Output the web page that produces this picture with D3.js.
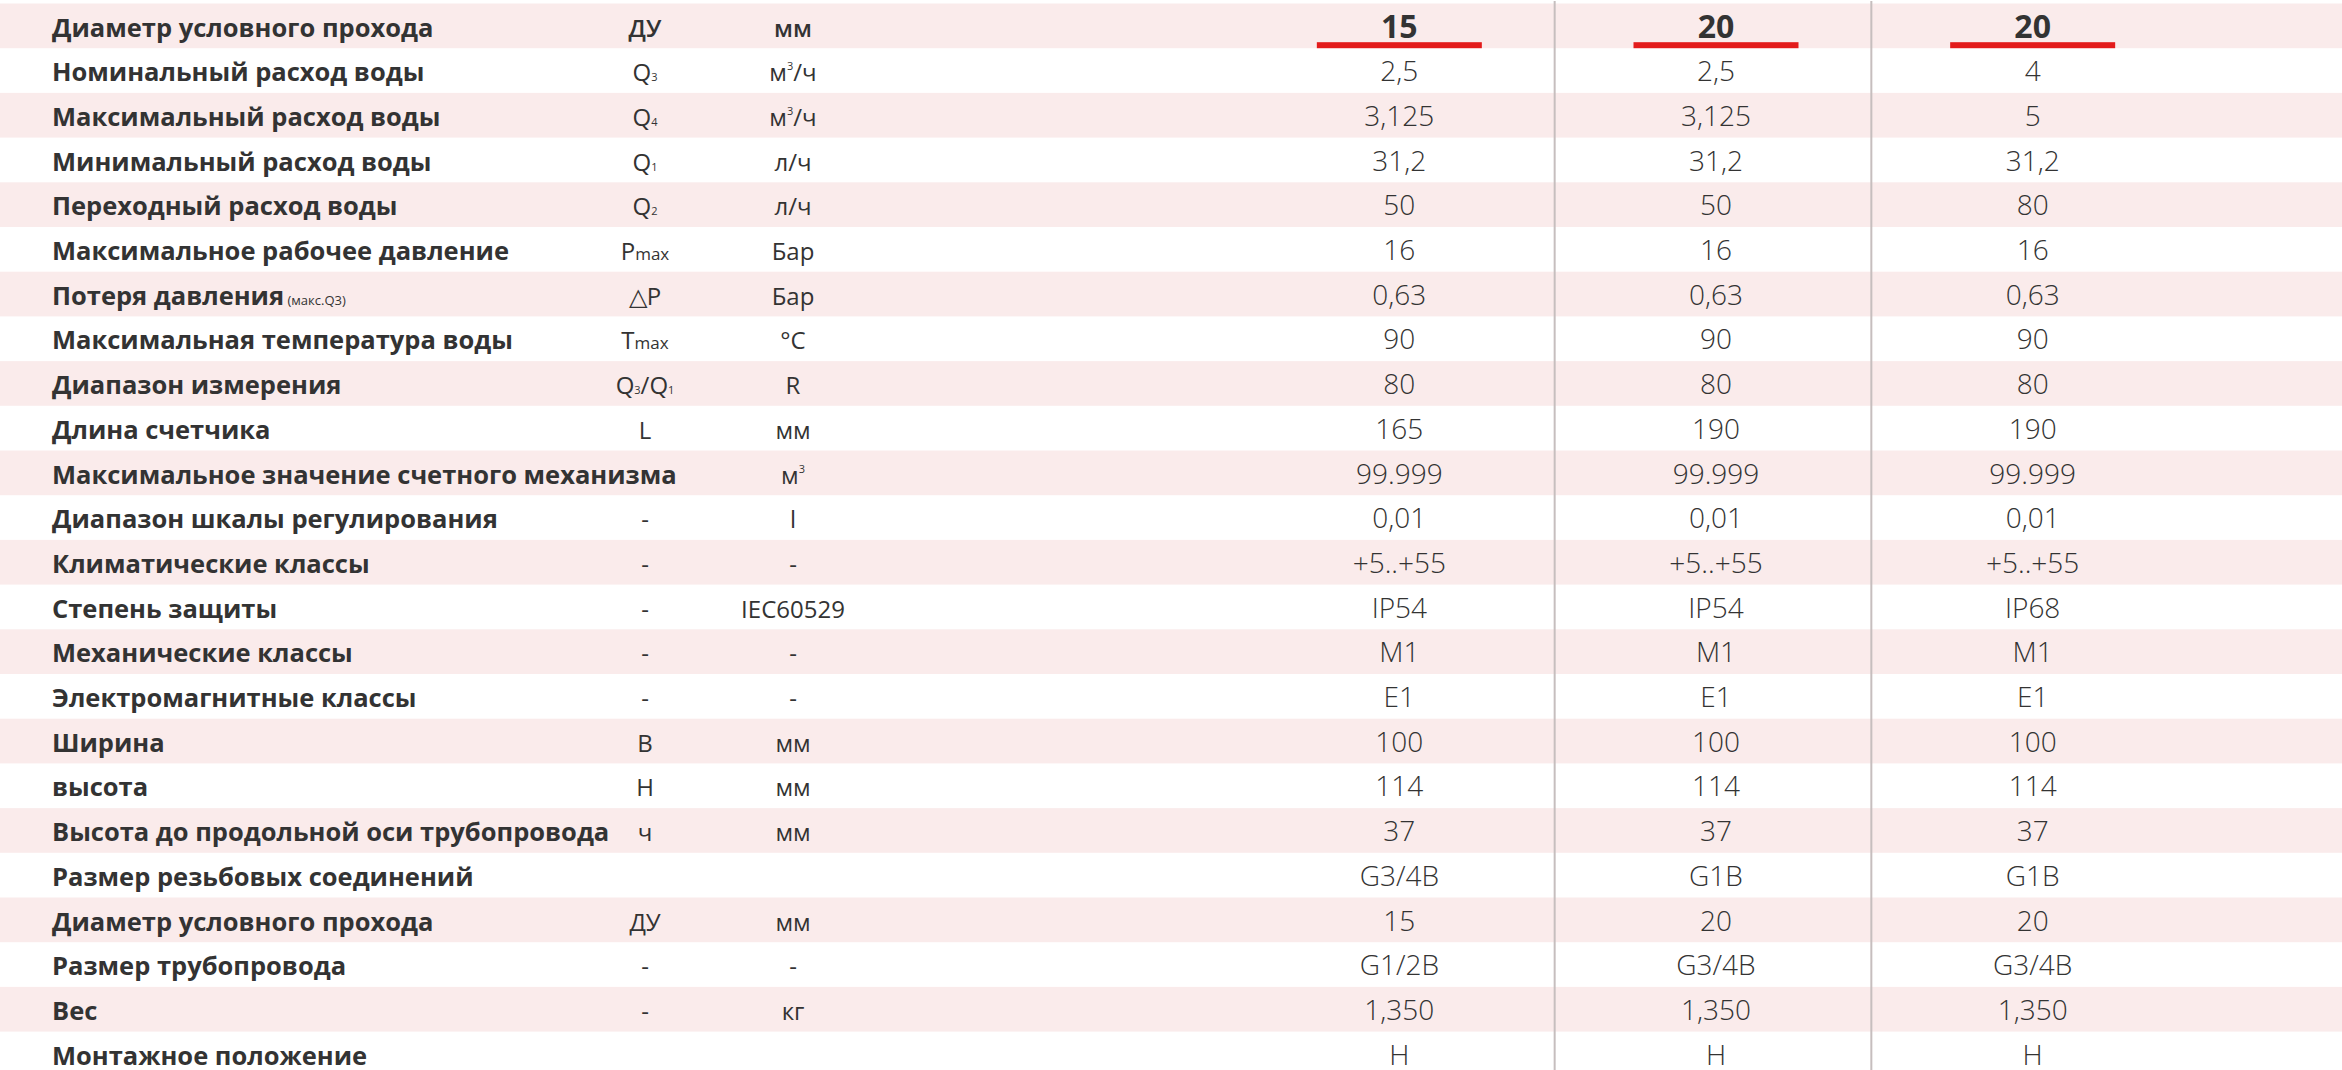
<!DOCTYPE html>
<html>
<head>
<meta charset="utf-8">
<script src="https://cdn.jsdelivr.net/npm/d3@7"></script>
<style>
  body { margin: 0; background: #fff; }
  svg { display: block; }
</style>
</head>
<body>
<div id="chart"></div>
<script>
// --- данные таблицы ---
const labels = [
    "Диаметр условного прохода",
    "Номинальный расход воды",
    "Максимальный расход воды",
    "Минимальный расход воды",
    "Переходный расход воды",
    "Максимальное рабочее давление",
    "Потеря давления",
    "Максимальная температура воды",
    "Диапазон измерения",
    "Длина счетчика",
    "Максимальное значение счетного механизма",
    "Диапазон шкалы регулирования",
    "Климатические классы",
    "Степень защиты",
    "Механические классы",
    "Электромагнитные классы",
    "Ширина",
    "высота",
    "Высота до продольной оси трубопровода",
    "Размер резьбовых соединений",
    "Диаметр условного прохода",
    "Размер трубопровода",
    "Вес",
    "Монтажное положение"
];

// мелкая приписка после названия (только у "Потеря давления")
const labelNotes = ["", "", "", "", "", "", "(макс.Q3)", "", "", "", "", "", "", "", "", "", "", "", "", "", "", "", "", ""];

// "_" = нижний индекс, "^" = верхний индекс
const symbols = ["ДУ", "Q_3", "Q_4", "Q_1", "Q_2", "P_max", "△P", "T_max", "Q_3/Q_1", "L", "", "-", "-", "-", "-", "-", "B", "H", "ч", "", "ДУ", "-", "-", ""];

const units = ["мм", "м^3/ч", "м^3/ч", "л/ч", "л/ч", "Бар", "Бар", "°C", "R", "мм", "м^3", "l", "-", "IEC60529", "-", "-", "мм", "мм", "мм", "", "мм", "-", "кг", ""];

const headers = ["15", "20", "20"];

const valuesDN15 = ["2,5", "3,125", "31,2", "50", "16", "0,63", "90", "80", "165", "99.999", "0,01", "+5..+55", "IP54", "M1", "E1", "100", "114", "37", "G3/4B", "15", "G1/2B", "1,350", "H"];
const valuesDN20 = ["2,5", "3,125", "31,2", "50", "16", "0,63", "90", "80", "190", "99.999", "0,01", "+5..+55", "IP54", "M1", "E1", "100", "114", "37", "G1B", "20", "G3/4B", "1,350", "H"];
const valuesDN20b = ["4", "5", "31,2", "80", "16", "0,63", "90", "80", "190", "99.999", "0,01", "+5..+55", "IP68", "M1", "E1", "100", "114", "37", "G1B", "20", "G3/4B", "1,350", "H"];

const columns = [valuesDN15, valuesDN20, valuesDN20b];

drawTable("#chart");

function drawTable(container) {
    const width = 2342, height = 1070;
    const rowTop = 3.5, rowH = 44.7;
    const textColor = "#333";
    const pink = "#FAEBEB";

    const y = d3.scaleBand()
        .domain(d3.range(labels.length))
        .range([rowTop, rowTop + rowH * labels.length]);

    // колонки со значениями
    const x = d3.scaleBand()
        .domain(d3.range(headers.length))
        .range([1241, 2191]);

    const labelX = 52, symbolX = 645, unitX = 793;
    const baseline = 33;

    const svg = d3.select(container)
        .append("svg")
        .attr("width", width)
        .attr("height", height)
        .style("font-family", "'Open Sans', 'Noto Sans', sans-serif");

    // полосы через строку
    svg.selectAll("rect.band")
        .data(labels.map((d, i) => i).filter(i => i % 2 === 0))
        .enter().append("rect")
        .attr("class", "band")
        .attr("x", 0)
        .attr("y", d => y(d))
        .attr("width", width)
        .attr("height", y.bandwidth())
        .attr("fill", pink);

    // вертикальные разделители
    svg.selectAll("line.sep")
        .data(d3.range(1, headers.length))
        .enter().append("line")
        .attr("class", "sep")
        .attr("x1", d => x(d) - 3)
        .attr("x2", d => x(d) - 3)
        .attr("y1", 1)
        .attr("y2", height)
        .attr("stroke", "#c6bebe")
        .attr("stroke-width", 2);

    // названия параметров
    const lab = svg.selectAll("text.label")
        .data(labels)
        .enter().append("text")
        .attr("class", "label")
        .attr("x", labelX)
        .attr("y", (d, i) => y(i) + baseline)
        .attr("fill", textColor)
        .style("font-size", "25.5px")
        .style("font-weight", 700);
    lab.append("tspan").text(d => d);
    lab.append("tspan")
        .text((d, i) => labelNotes[i] ? " " + labelNotes[i] : "")
        .style("font-size", "13px")
        .style("font-weight", 400);

    // обозначения и единицы
    richColumn(svg, symbols, symbolX);
    richColumn(svg, units, unitX);

    function richColumn(svg, arr, cx) {
        svg.selectAll(null)
            .data(arr)
            .enter().append("text")
            .attr("x", cx)
            .attr("y", (d, i) => y(i) + baseline)
            .attr("text-anchor", "middle")
            .attr("fill", textColor)
            .style("font-size", "24px")
            .style("font-weight", (d, i) => i === 0 ? 600 : 400)
            .each(function(d) {
                const t = d3.select(this);
                const parts = d.match(/[_^][^\/]*|[^_^]+/g) || [];
                let raised = 0;
                parts.forEach(p => {
                    const s = t.append("tspan");
                    if (raised) { s.attr("dy", raised); raised = 0; }
                    if (p[0] === "_") {
                        const txt = p.slice(1);
                        s.text(txt).style("font-size", /\d/.test(txt) ? "11px" : "17px");
                    } else if (p[0] === "^") {
                        s.text(p.slice(1)).style("font-size", "11px").attr("dy", -11);
                        raised = 11;
                    } else {
                        s.text(p);
                    }
                });
            });
    }

    // заголовки колонок (DN)
    svg.selectAll("text.head")
        .data(headers)
        .enter().append("text")
        .attr("class", "head")
        .attr("x", (d, i) => x(i) + x.bandwidth() / 2)
        .attr("y", y(0) + baseline + 1)
        .attr("text-anchor", "middle")
        .attr("fill", textColor)
        .style("font-size", "32px")
        .style("font-weight", 700)
        .text(d => d);

    svg.selectAll("rect.underline")
        .data(headers)
        .enter().append("rect")
        .attr("class", "underline")
        .attr("x", (d, i) => x(i) + x.bandwidth() / 2 - 82.5)
        .attr("y", y(0) + y.bandwidth() - 6)
        .attr("width", 165)
        .attr("height", 6)
        .attr("fill", "#E31B1B");

    // значения
    columns.forEach((col, c) => {
        svg.selectAll(null)
            .data(col)
            .enter().append("text")
            .attr("x", x(c) + x.bandwidth() / 2)
            .attr("y", (d, i) => y(i + 1) + baseline)
            .attr("text-anchor", "middle")
            .attr("fill", textColor)
            .style("font-size", "28px")
            .style("font-weight", 300)
            .text(d => d);
    });
}
</script>
</body>
</html>
